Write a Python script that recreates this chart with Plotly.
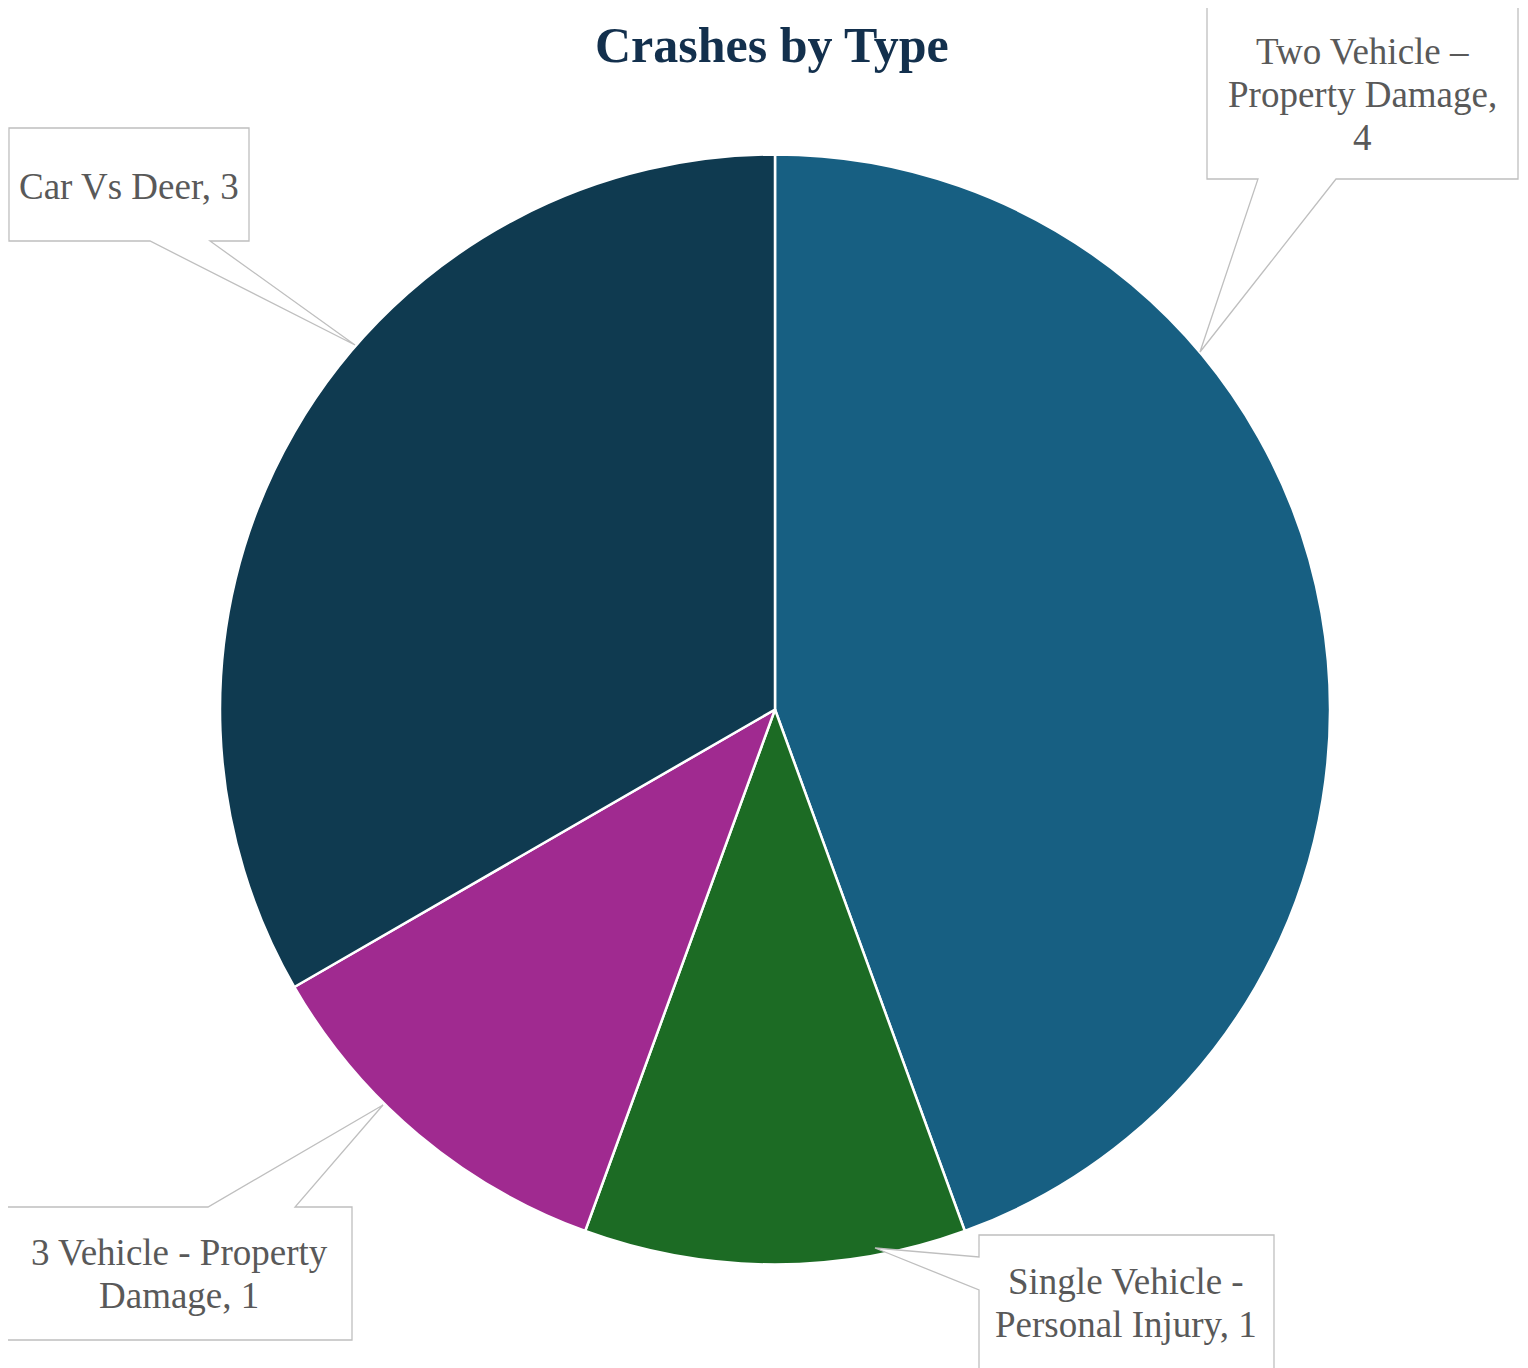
import plotly.graph_objects as go

# ---- data ----
categories = ["Two Vehicle – Property Damage", "Single Vehicle - Personal Injury",
              "3 Vehicle - Property Damage", "Car Vs Deer"]
crashes = [4, 1, 1, 3]
label_lines = [["Two Vehicle –", "Property Damage,", "4"],
               ["Single Vehicle -", "Personal Injury, 1"],
               ["3 Vehicle - Property", "Damage, 1"],
               ["Car Vs Deer, 3"]]
slice_colors = ["#175f82", "#1c6b24", "#a02a90", "#0f3a50"]

W, H = 1528, 1368
OFF = 8  # page body margin

def px(x):
    return (x - OFF) / W

def py(y):
    return 1 - (y - OFF) / H

# callout geometry in pixels: box (x0, y0, x1, y1), wedge base points, tip, text centre
callouts = [
    dict(box=(1207, 7, 1518, 179), side="bottom", base=(1258, 1336), tip=(1200, 352), tc=(1362, 94)),
    dict(box=(979, 1235, 1274, 1380), side="left", base=(1257, 1290), tip=(875, 1248), tc=(1126, 1303)),
    dict(box=(6, 1207, 352, 1340), side="top", base=(208, 295), tip=(383, 1105), tc=(179, 1274)),
    dict(box=(9, 128, 249, 241), side="bottom", base=(150, 210), tip=(355, 345), tc=(129, 186)),
]
LINE_H = 43

fig = go.Figure()
fig.add_trace(go.Pie(
    labels=categories, values=crashes, sort=False, direction="clockwise", rotation=0,
    marker=dict(colors=slice_colors, line=dict(color="white", width=2.5)),
    textinfo="none", showlegend=False,
    domain=dict(x=[px(220), px(1330)], y=[py(1265), py(154)]),
))

shapes = []
annotations = []
for c, lines in zip(callouts, label_lines):
    x0, y0, x1, y1 = c["box"]
    b0, b1 = c["base"]
    tx, ty = c["tip"]
    if c["side"] == "bottom":
        pts = [(x0, y0), (x1, y0), (x1, y1), (b1, y1), (tx, ty), (b0, y1), (x0, y1)]
    elif c["side"] == "top":
        pts = [(x0, y0), (b0, y0), (tx, ty), (b1, y0), (x1, y0), (x1, y1), (x0, y1)]
    else:  # left
        pts = [(x0, y0), (x1, y0), (x1, y1), (x0, y1), (x0, b1), (tx, ty), (x0, b0)]
    path = "M " + " L ".join(f"{px(a):.5f},{py(b):.5f}" for a, b in pts) + " Z"
    shapes.append(dict(type="path", path=path, xref="paper", yref="paper",
                       fillcolor="white", line=dict(color="#bfbfbf", width=1.3), layer="above"))
    cx, cy = c["tc"]
    n = len(lines)
    for i, ln in enumerate(lines):
        ly = cy + (i - (n - 1) / 2) * LINE_H
        annotations.append(dict(text=ln, x=px(cx), y=py(ly), xref="paper", yref="paper",
                                showarrow=False, xanchor="center", yanchor="middle", align="center",
                                font=dict(family="Liberation Serif", size=37, color="#595959")))

annotations.append(dict(text="<b>Crashes by Type</b>", x=px(772), y=py(45), xref="paper", yref="paper",
                        showarrow=False, xanchor="center", yanchor="middle",
                        font=dict(family="Liberation Serif", size=50, color="#13304d")))

fig.update_layout(
    width=W, height=H, margin=dict(l=0, r=0, t=0, b=0),
    paper_bgcolor="white", plot_bgcolor="white",
    shapes=shapes, annotations=annotations,
)
fig.write_html("out.html")
